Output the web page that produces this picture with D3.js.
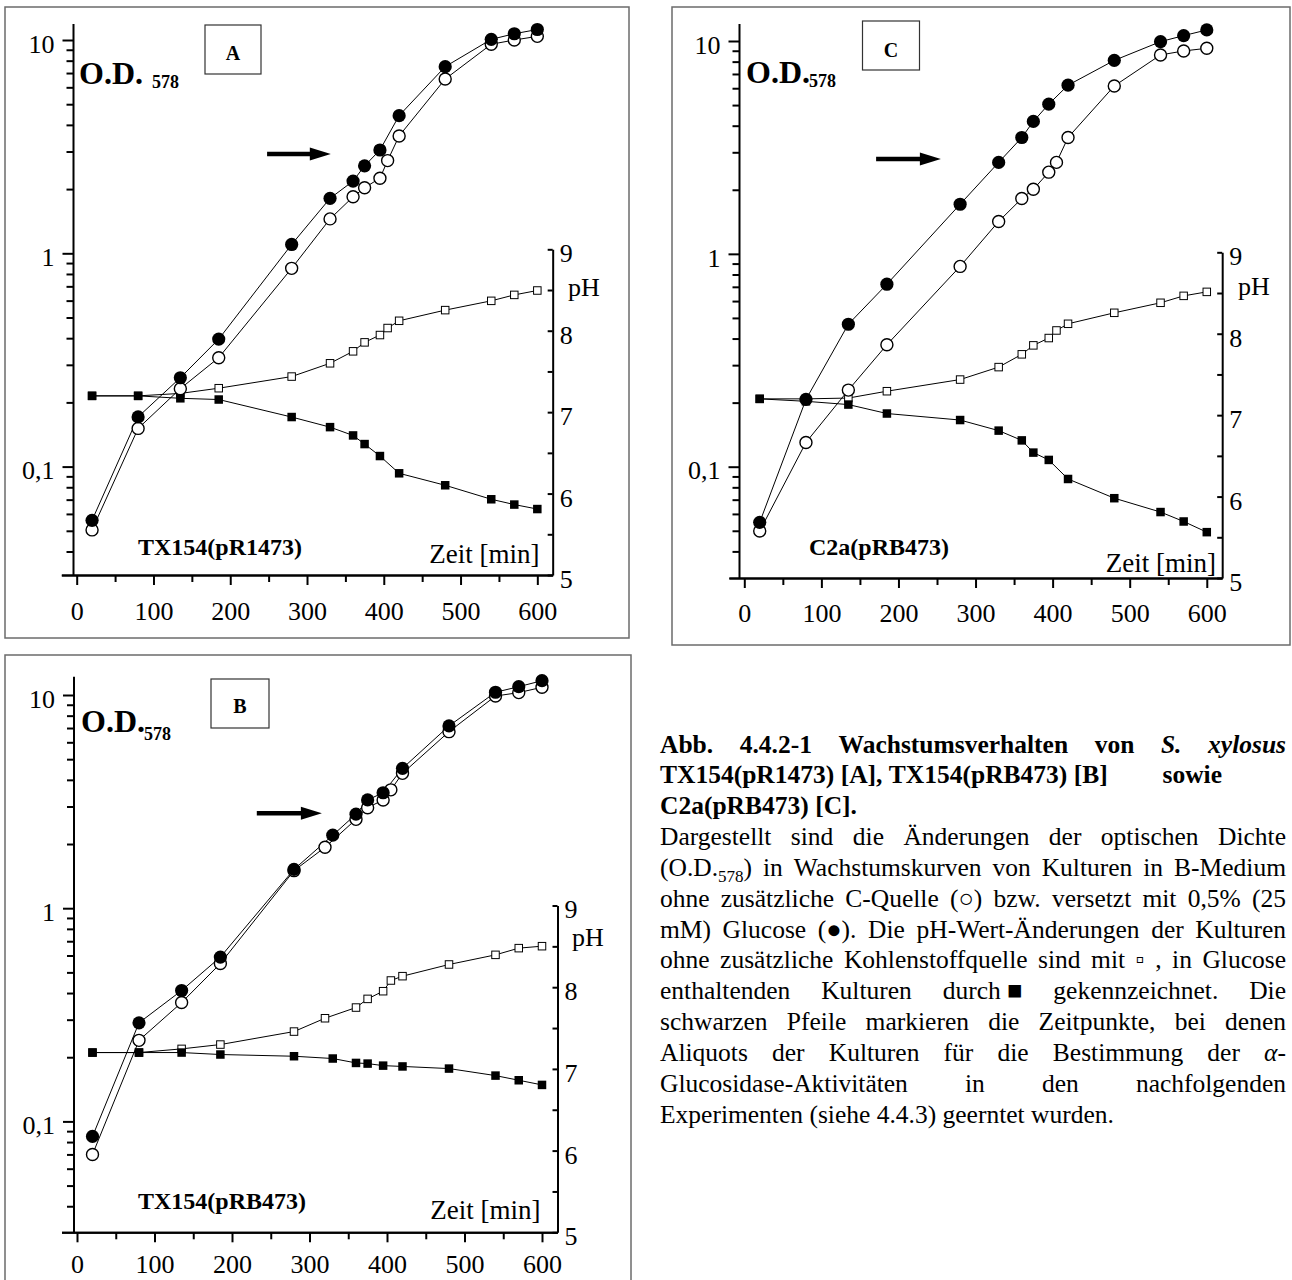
<!DOCTYPE html>
<html><head><meta charset="utf-8">
<script src="https://cdn.jsdelivr.net/npm/d3@7"></script>
<style>
body{margin:0;background:#fff;}
svg{display:block;font-family:"Liberation Serif","Times New Roman",serif;}
</style></head><body>
<svg id="fig" width="1292" height="1280"></svg>
<script>
// ---- sampling times (min) ----
const timeGlc   = [20,80,135,185,280,330,360,375,395,420,480,540,570,600];
const timeNoC   = [20,80,135,185,280,330,360,375,395,405,420,480,540,570,600];
const timeNoC_B = [20,80,135,185,280,320,360,375,395,405,420,480,540,570,600];

// ---- A: TX154(pR1473) ----
const odA_glc = [0.056,0.171,0.261,0.396,1.10,1.81,2.18,2.57,3.05,4.42,7.5,10.07,10.7,11.2];
const odA_noC = [0.0505,0.151,0.232,0.324,0.85,1.45,1.84,2.03,2.25,2.72,3.55,6.56,9.55,10.0,10.4];
const phA_glc = [7.20,7.20,7.17,7.155,6.94,6.816,6.714,6.608,6.461,6.249,6.102,5.93,5.865,5.81];
const phA_noC = [7.20,7.20,7.23,7.294,7.437,7.60,7.747,7.857,7.947,8.033,8.122,8.253,8.367,8.44,8.494];

// ---- B: TX154(pRB473) ----
const odB_glc = [0.085,0.29,0.411,0.59,1.52,2.2,2.76,3.22,3.48,4.53,7.16,10.3,10.94,11.67];
const odB_noC = [0.07,0.24,0.361,0.55,1.5,1.93,2.61,2.96,3.22,3.59,4.29,6.73,9.89,10.26,10.87];
const phB_glc = [7.20,7.20,7.20,7.176,7.155,7.127,7.073,7.065,7.04,7.03,7.004,6.918,6.861,6.804];
const phB_noC = [7.20,7.20,7.245,7.298,7.457,7.62,7.751,7.857,7.951,8.082,8.135,8.278,8.396,8.478,8.502];

// ---- C: C2a(pRB473) ----
const odC_glc = [0.0548,0.207,0.467,0.72,1.71,2.69,3.52,4.19,5.05,6.2,8.11,9.93,10.6,11.27];
const odC_noC = [0.0499,0.13,0.229,0.374,0.873,1.42,1.82,2.01,2.42,2.69,3.52,6.15,8.6,8.98,9.24];
const phC_glc = [7.20,7.17,7.13,7.02,6.94,6.81,6.69,6.54,6.45,6.216,5.98,5.81,5.694,5.563];
const phC_noC = [7.20,7.20,7.21,7.294,7.437,7.59,7.747,7.857,7.947,8.04,8.122,8.257,8.38,8.465,8.514];

// ---- axis ticks ----
const timeTicks  = [0,100,200,300,400,500,600];
const timeMinor  = [50,150,250,350,450,550];
const odMajor    = [0.1,1,10];
const odMinor    = [0.04,0.05,0.06,0.07,0.08,0.09,0.2,0.3,0.4,0.5,0.6,0.7,0.8,0.9,2,3,4,5,6,7,8,9];
const odLabels   = ["0,1","1","10"];
const phTicks    = [5,5.5,6,6.5,7,7.5,8,8.5,9];

// ---- panel labels and sampling arrows (time from, time to, O.D.) ----
const panelLetters = ["A","B","C"];
const strainLabels = ["TX154(pR1473)","TX154(pRB473)","C2a(pRB473)"];
const arrowA = [248, 331, 2.92];
const arrowB = [232, 316, 2.79];
const arrowC = [171, 255, 2.79];

const SERIF = '"Liberation Serif","Times New Roman",serif';
const svg = d3.select("#fig");

// panel geometry
const panels = [
  { letter: panelLetters[0], strain: strainLabels[0], arrow: arrowA, subGap: true,
    glc: [timeGlc, odA_glc, phA_glc], noc: [timeNoC, odA_noC, phA_noC],
    frame: [5,7,629,638], x0: 76.7, k: 0.7677, axisX: 73.5, bottom: 575, top: 24,
    y01: 466.6, y10: 40, ph9: 249.3, labelPad: 17,
    box: [205,25,261,74], letterY: 60, od: [79,83.5], subDy: 4,
    strainXY: [138,555], zeitXY: [539.5,563.3], phXY: [568,296] },
  { letter: panelLetters[1], strain: strainLabels[1], arrow: arrowB, subGap: false,
    glc: [timeGlc, odB_glc, phB_glc], noc: [timeNoC_B, odB_noC, phB_noC],
    frame: [5,655,631,1295], x0: 77, k: 0.775, axisX: 74, bottom: 1232.3, top: 676.7,
    y01: 1121.4, y10: 695, ph9: 905.5, labelPad: 12,
    box: [211,679,269,728], letterY: 713.3, od: [81,731.7], subDy: 8,
    strainXY: [138,1209.3], zeitXY: [540.5,1219.3], phXY: [572,946] },
  { letter: panelLetters[2], strain: strainLabels[2], arrow: arrowC, subGap: false,
    glc: [timeGlc, odC_glc, phC_glc], noc: [timeNoC, odC_noC, phC_noC],
    frame: [672,7,1290,645], x0: 744.3, k: 0.7708, axisX: 739.5, bottom: 578, top: 24,
    y01: 466.7, y10: 41, ph9: 252.3, labelPad: 16,
    box: [862.5,21,919.5,70], letterY: 56.7, od: [746,83.3], subDy: 4,
    strainXY: [809,555], zeitXY: [1216,571.7], phXY: [1238,295] }
];

function styleAxis(sel, size) {
  sel.attr("font-family", SERIF).attr("font-size", size);
  sel.selectAll("path,line").attr("stroke", "#000").attr("stroke-width", 2);
  sel.selectAll("text").attr("fill", "#000");
}

function drawPanel(p) {
  const g = svg.append("g");
  const [fx0, fy0, fx1, fy1] = p.frame;
  g.append("rect").attr("x", fx0).attr("y", fy0)
    .attr("width", fx1 - fx0).attr("height", fy1 - fy0)
    .attr("fill", "none").attr("stroke", "#6b6b6b").attr("stroke-width", 1.5);

  const x = d3.scaleLinear().domain([-20, 620]).range([p.x0 - 20 * p.k, p.x0 + 620 * p.k]);
  const yOD = d3.scaleLog().domain([0.1, 10]).range([p.y01, p.y10]);
  const yPH = d3.scaleLinear().domain([5, 9]).range([p.bottom, p.ph9]);

  // time axis
  const xa1 = g.append("g").attr("transform", `translate(0,${p.bottom})`)
    .call(d3.axisBottom(x).tickValues(timeMinor).tickSize(7).tickSizeOuter(0).tickFormat(""));
  styleAxis(xa1, 26);
  const xa2 = g.append("g").attr("transform", `translate(0,${p.bottom})`)
    .call(d3.axisBottom(x).tickValues(timeTicks).tickSize(10).tickSizeOuter(0)
      .tickPadding(p.labelPad).tickFormat(d3.format("d")));
  styleAxis(xa2, 26);

  // O.D. axis (log)
  const ya1 = g.append("g").attr("transform", `translate(${p.axisX},0)`)
    .call(d3.axisLeft(yOD).tickValues(odMinor).tickSize(7).tickFormat(""));
  ya1.select(".domain").remove();
  styleAxis(ya1, 26);
  const ya2 = g.append("g").attr("transform", `translate(${p.axisX},0)`)
    .call(d3.axisLeft(yOD).tickValues(odMajor).tickSize(11).tickPadding(8)
      .tickFormat((d, i) => odLabels[i]));
  ya2.select(".domain").remove();
  styleAxis(ya2, 26);
  ya2.selectAll("text").attr("dy", "0.47em");
  g.append("line").attr("x1", p.axisX).attr("x2", p.axisX)
    .attr("y1", p.bottom + 1).attr("y2", p.top)
    .attr("stroke", "#000").attr("stroke-width", 2);

  // pH axis on the right
  const pa = g.append("g").attr("transform", `translate(${x(620)},0)`)
    .call(d3.axisRight(yPH).tickValues(phTicks).tickSize(-5).tickSizeOuter(0).tickPadding(7)
      .tickFormat(d => Number.isInteger(d) ? d : ""));
  styleAxis(pa, 26);
  pa.selectAll("text").attr("dy", "0.48em");

  // curves
  const lineOD = d3.line().x(d => x(d[0])).y(d => yOD(d[1]));
  const linePH = d3.line().x(d => x(d[0])).y(d => yPH(d[1]));
  const odNoC = d3.zip(p.noc[0], p.noc[1]);
  const odGlc = d3.zip(p.glc[0], p.glc[1]);
  const phNoC = d3.zip(p.noc[0], p.noc[2]);
  const phGlc = d3.zip(p.glc[0], p.glc[2]);

  [[phNoC, linePH], [phGlc, linePH], [odNoC, lineOD], [odGlc, lineOD]].forEach(([d, l]) => {
    g.append("path").datum(d).attr("d", l)
      .attr("fill", "none").attr("stroke", "#000").attr("stroke-width", 1);
  });

  g.append("g").selectAll("rect").data(phNoC).join("rect")
    .attr("x", d => x(d[0]) - 3.75).attr("y", d => yPH(d[1]) - 3.75)
    .attr("width", 7.5).attr("height", 7.5)
    .attr("fill", "#fff").attr("stroke", "#000").attr("stroke-width", 1);
  g.append("g").selectAll("rect").data(phGlc).join("rect")
    .attr("x", d => x(d[0]) - 4.25).attr("y", d => yPH(d[1]) - 4.25)
    .attr("width", 8.5).attr("height", 8.5).attr("fill", "#000");
  g.append("g").selectAll("circle").data(odNoC).join("circle")
    .attr("cx", d => x(d[0])).attr("cy", d => yOD(d[1])).attr("r", 6)
    .attr("fill", "#fff").attr("stroke", "#000").attr("stroke-width", 1.4);
  g.append("g").selectAll("circle").data(odGlc).join("circle")
    .attr("cx", d => x(d[0])).attr("cy", d => yOD(d[1])).attr("r", 6.6)
    .attr("fill", "#000");

  // sampling arrow
  const [t0, t1, odA] = p.arrow;
  const ay = yOD(odA), ax0 = x(t0), ax1 = x(t1), head = 21;
  g.append("line").attr("x1", ax0).attr("x2", ax1 - head + 2).attr("y1", ay).attr("y2", ay)
    .attr("stroke", "#000").attr("stroke-width", 4.5);
  g.append("path")
    .attr("d", `M${ax1},${ay}L${ax1 - head},${ay - 6.5}L${ax1 - head},${ay + 6.5}Z`)
    .attr("fill", "#000");

  // panel letter box
  const [bx0, by0, bx1, by1] = p.box;
  g.append("rect").attr("x", bx0).attr("y", by0).attr("width", bx1 - bx0).attr("height", by1 - by0)
    .attr("fill", "#fff").attr("stroke", "#333").attr("stroke-width", 1.2);
  g.append("text").attr("x", (bx0 + bx1) / 2).attr("y", p.letterY)
    .attr("text-anchor", "middle").attr("font-weight", "bold").attr("font-size", 20)
    .text(p.letter);

  // O.D.578 axis title
  const od = g.append("text").attr("x", p.od[0]).attr("y", p.od[1])
    .attr("font-weight", "bold").attr("font-size", 32);
  od.append("tspan").text("O.D.");
  od.append("tspan").attr("font-size", 18).attr("dx", p.subGap ? 9 : -1).attr("dy", p.subDy).text("578");

  // strain, time and pH labels
  g.append("text").attr("x", p.strainXY[0]).attr("y", p.strainXY[1])
    .attr("font-weight", "bold").attr("font-size", 24).text(p.strain);
  g.append("text").attr("x", p.zeitXY[0]).attr("y", p.zeitXY[1])
    .attr("text-anchor", "end").attr("font-size", 27).text("Zeit [min]");
  g.append("text").attr("x", p.phXY[0]).attr("y", p.phXY[1])
    .attr("font-size", 26).text("pH");
}

panels.forEach(drawPanel);

// ---- figure caption (justified block) ----
const captionLines = [
  { bold: true, justify: true, text: "Abb. 4.4.2-1 Wachstumsverhalten von *S.* *xylosus*" },
  { bold: true, tabEnd: 1222, text: "TX154(pR1473) [A], TX154(pRB473) [B] sowie" },
  { bold: true, text: "C2a(pRB473) [C]." },
  { justify: true, text: "Dargestellt sind die Änderungen der optischen Dichte" },
  { justify: true, text: "(O.D._578_) in Wachstumskurven von Kulturen in B-Medium" },
  { justify: true, text: "ohne zusätzliche C-Quelle (○) bzw. versetzt mit 0,5% (25" },
  { justify: true, text: "mM) Glucose (●). Die pH-Wert-Änderungen der Kulturen" },
  { justify: true, text: "ohne zusätzliche Kohlenstoffquelle sind mit ▫ , in Glucose" },
  { justify: true, text: "enthaltenden Kulturen durch\u00a0■ gekennzeichnet. Die" },
  { justify: true, text: "schwarzen Pfeile markieren die Zeitpunkte, bei denen" },
  { justify: true, text: "Aliquots der Kulturen für die Bestimmung der *α*-" },
  { justify: true, text: "Glucosidase-Aktivitäten in den nachfolgenden" },
  { text: "Experimenten (siehe 4.4.3) geerntet wurden." }
];

function parseWord(w) {
  const segs = [];
  let cur = "", ital = false, sub = false;
  for (const ch of w) {
    if (ch === "*" || ch === "_") {
      if (cur) segs.push({ t: cur, ital, sub });
      cur = "";
      if (ch === "*") ital = !ital; else sub = !sub;
    } else cur += ch;
  }
  if (cur) segs.push({ t: cur, ital, sub });
  return segs;
}

const cap = svg.append("g").attr("font-size", 25.5);
const capLeft = 660, capRight = 1286, capY0 = 752.5, capLH = 30.84;
captionLines.forEach((ln, i) => {
  const y = capY0 + i * capLH;
  const words = ln.text.split(" ");
  const nodes = words.map(w => {
    const t = cap.append("text").attr("y", y).attr("font-weight", ln.bold ? "bold" : "normal");
    let prevSub = false;
    parseWord(w).forEach(s => {
      const ts = t.append("tspan").text(s.t);
      if (s.ital) ts.attr("font-style", "italic");
      if (s.sub) ts.attr("font-size", 17).attr("dy", 6);
      else if (prevSub) ts.attr("dy", -6);
      prevSub = s.sub;
    });
    return t;
  });
  const widths = nodes.map(n => n.node().getComputedTextLength());
  const total = d3.sum(widths);
  const space = 25.5 * 0.25;
  let gap = space;
  if (ln.justify && nodes.length > 1) gap = (capRight - capLeft - total) / (nodes.length - 1);
  let xPos = capLeft;
  nodes.forEach((n, j) => {
    if (ln.tabEnd && j === nodes.length - 1) n.attr("x", ln.tabEnd - widths[j]);
    else n.attr("x", xPos);
    xPos += widths[j] + gap;
  });
});
</script>
</body></html>
